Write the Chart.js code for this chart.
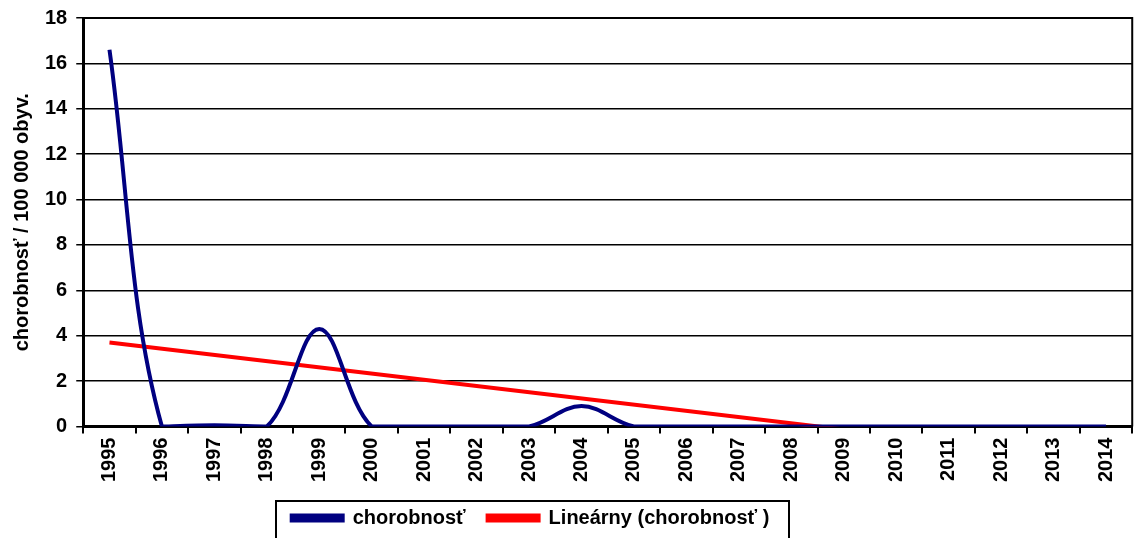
<!DOCTYPE html>
<html>
<head>
<meta charset="utf-8">
<script src="https://cdn.jsdelivr.net/npm/chart.js@4/dist/chart.umd.min.js"></script>
<style>
  html, body { margin: 0; padding: 0; background: #ffffff; }
  #wrap { width: 1134px; height: 538px; position: relative; }
</style>
</head>
<body>
<div id="wrap"><canvas id="c" width="1134" height="538"></canvas></div>
<script>
const years = ['1995','1996','1997','1998','1999','2000','2001','2002','2003','2004','2005','2006','2007','2008','2009','2010','2011','2012','2013','2014'];
const chorobnost = [16.6, 0, 0.05, 0, 4.3, 0, 0, 0, 0, 0.9, 0, 0, 0, 0, 0, 0, 0, 0, 0, 0];
const trendline = [3.7, null, null, null, null, null, null, null, null, null, null, null, null, null, null, null, null, null, null, -1.5];
const yTicks = [0, 2, 4, 6, 8, 10, 12, 14, 16, 18];
const seriesName = 'chorobnosť';
const trendName = 'Lineárny (chorobnosť )';
const yTitle = 'chorobnosť / 100 000 obyv.';

const FONT = 'Arial, "Liberation Sans", sans-serif';

const framePlugin = {
  id: 'frame',
  beforeDraw(chart) {
    const l = chart.legend;
    if (l) { l.left = 262; l.right = 799; }
  },
  afterDatasetsDraw(chart) {
    const a = chart.chartArea, ctx = chart.ctx;
    ctx.save();
    ctx.strokeStyle = '#000';
    ctx.lineWidth = 2;
    ctx.beginPath();
    ctx.moveTo(a.left, a.top);
    ctx.lineTo(a.right, a.top);
    ctx.lineTo(a.right, a.bottom);
    ctx.stroke();
    ctx.restore();
  },
  afterDraw(chart) {
    const ctx = chart.ctx;
    ctx.save();
    ctx.strokeStyle = '#000';
    ctx.lineWidth = 2;
    ctx.strokeRect(276, 501, 513, 50);
    ctx.restore();
  }
};

new Chart(document.getElementById('c'), {
  type: 'line',
  data: {
    labels: years,
    datasets: [
      {
        label: seriesName,
        data: chorobnost,
        borderColor: '#000080',
        backgroundColor: '#000080',
        borderWidth: 4,
        pointRadius: 0,
        tension: 0.36,
        fill: false
      },
      {
        label: trendName,
        data: trendline,
        borderColor: '#ff0000',
        backgroundColor: '#ff0000',
        borderWidth: 4,
        pointRadius: 0,
        spanGaps: true,
        tension: 0,
        fill: false
      }
    ]
  },
  options: {
    responsive: false,
    animation: false,
    layout: { padding: { top: 0, right: 0, left: 10, bottom: 0 } },
    plugins: {
      tooltip: { enabled: false },
      legend: {
        position: 'bottom',
        labels: {
          color: '#000',
          font: { family: FONT, size: 20, weight: 'bold' },
          boxWidth: 51,
          boxHeight: 5,
          padding: 22
        }
      }
    },
    scales: {
      x: {
        offset: true,
        grid: { display: true, offset: true, drawOnChartArea: false, drawTicks: true, tickLength: 7, color: '#000', lineWidth: 2 },
        border: { display: true, color: '#000', width: 3 },
        ticks: {
          color: '#000',
          font: { family: FONT, size: 20, weight: 'bold' },
          minRotation: 90,
          maxRotation: 90,
          autoSkip: false,
          padding: 4
        }
      },
      y: {
        min: 0,
        max: 18,
        afterBuildTicks(scale) { scale.ticks = yTicks.map(v => ({ value: v })); },
        afterFit(scale) { scale.paddingTop = Math.max(0, scale.paddingTop - 3); },
        grid: { color: '#000', lineWidth: 1.5, drawTicks: true, tickLength: 7, tickColor: '#000' },
        border: { display: true, color: '#000', width: 3 },
        ticks: {
          color: '#000',
          font: { family: FONT, size: 20, weight: 'bold' },
          padding: 9
        },
        title: {
          display: true,
          text: yTitle,
          color: '#000',
          font: { family: FONT, size: 20, weight: 'bold' },
          padding: { top: 0, bottom: 2 }
        }
      }
    }
  },
  plugins: [framePlugin]
});
</script>
</body>
</html>
